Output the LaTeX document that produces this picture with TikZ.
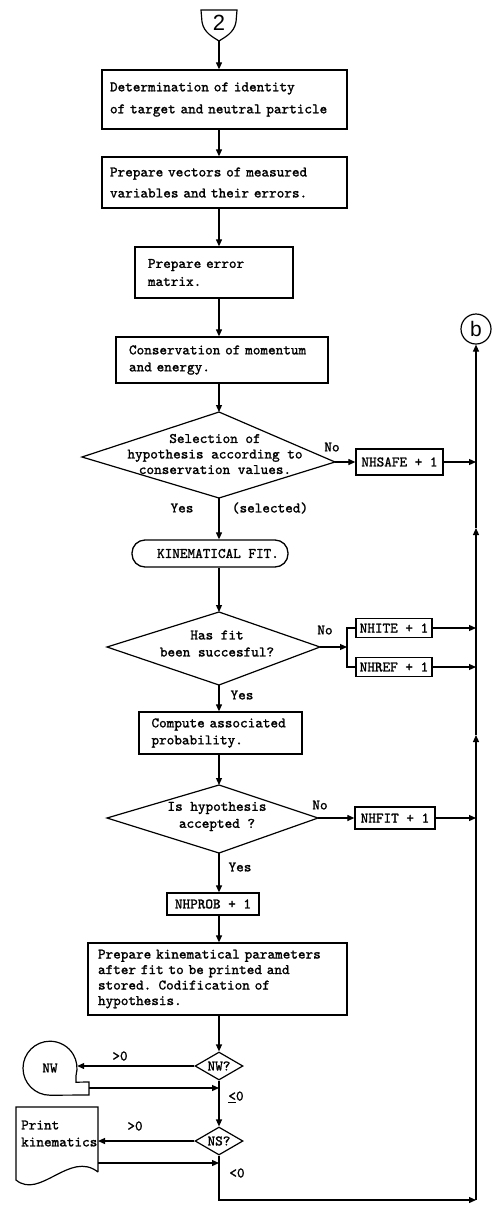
\documentclass[tikz,border=0pt]{standalone}
\usepackage{fontspec}
\newfontfamily\tw[FakeBold=1.4]{lmmono10-regular.otf}
\newfontfamily\sfx{Liberation Sans}
\usetikzlibrary{arrows.meta,shapes.geometric}
\tikzset{
  tt/.style={font=\tw\fontsize{14.5}{15.5}\selectfont},
  proc/.style={draw, line width=1.3pt, align=left, inner ysep=2pt, tt},
  sbox/.style={draw, line width=1.3pt, inner xsep=3pt, inner ysep=2pt, tt},
  lbl/.style={tt, inner sep=1pt},
  ln/.style={line width=1.2pt},
  arr/.style={line width=1.2pt, -{Triangle[length=7pt,width=6pt]}},
  dec/.style={diamond, draw, line width=1.2pt, inner sep=0pt, minimum width=48pt, minimum height=28pt, aspect=1.7, tt}
}
\begin{document}
\begin{tikzpicture}[x=1pt,y=1pt]
\useasboundingbox[fill=white] (0,0) rectangle (492,-1208);
\coordinate (mx) at (219,0);
\coordinate (rx) at (476,0);

% off-page connector 2
\draw[ln] (201,-10) -- (237,-10) -- (236,-22) .. controls (234,-33) and (225,-37) .. (219,-41) .. controls (213,-37) and (204,-33) .. (202,-22) -- cycle;
\node[font=\sfx\fontsize{22}{22}\selectfont, inner sep=0pt] (c2) at (219,-23) {2};
\coordinate (s2) at (219,-41);

% process boxes
\node[proc, inner xsep=8pt, text width=229pt, minimum height=59pt, font=\tw\fontsize{14.5}{22}\selectfont] (b1) at (224.5,-99.5) {Determination of identity\\of target and neutral particle};
\node[proc, inner xsep=8pt, text width=229pt, minimum height=51pt, font=\tw\fontsize{14.5}{21}\selectfont] (b2) at (224.5,-182.5) {Prepare vectors of measured\\variables and their errors.};
\node[proc, inner xsep=13pt, text width=132pt, minimum height=51pt, font=\tw\fontsize{14.5}{18}\selectfont] (b3) at (214,-272.5) {Prepare error\\matrix.};
\node[proc, inner xsep=13pt, text width=186pt, minimum height=46pt, font=\tw\fontsize{14.5}{17}\selectfont] (b4) at (222,-360) {Conservation of momentum\\and energy.};

% decision 1
\coordinate (d1t) at (219,-412);
\coordinate (d1l) at (82,-457);
\coordinate (d1r) at (335,-462);
\coordinate (d1b) at (219,-498);
\draw[ln] (d1t) -- (d1r) -- (d1b) -- (d1l) -- cycle;
\node[lbl, align=center, font=\tw\fontsize{14.5}{15.5}\selectfont] (d1) at (215,-454) {Selection of\\hypothesis according to\\conservation values.};
\node[lbl] (no1) at (332,-447) {No};
\node[lbl] (yes1) at (182,-508) {Yes};
\node[lbl] (sel) at (270,-508) {(selected)};
\node[sbox, minimum width=87pt, minimum height=26pt] (nhs) at (399.5,-462) {NHSAFE + 1};

% kinematical fit
\node[draw, line width=1.3pt, rounded corners=13pt, minimum width=156pt, minimum height=27pt, tt] (kin) at (210,-553.5) {\hspace*{16pt}KINEMATICAL FIT.};

% decision 2
\coordinate (d2t) at (219,-612);
\coordinate (d2l) at (107,-647);
\coordinate (d2r) at (320,-647);
\coordinate (d2b) at (219,-685);
\draw[ln] (d2t) -- (d2r) -- (d2b) -- (d2l) -- cycle;
\node[lbl, align=center, font=\tw\fontsize{14.5}{17}\selectfont] (d2) at (217,-643.5) {Has fit\\been succesful?};
\node[lbl] (no2) at (325,-630) {No};
\node[lbl] (yes2) at (242,-695) {Yes};
\coordinate (br) at (347,-647);
\node[sbox, minimum width=76pt, minimum height=19pt] (nhite) at (394,-628) {NHITE + 1};
\node[sbox, minimum width=76pt, minimum height=19pt] (nhref) at (394,-667) {NHREF + 1};

% compute
\node[proc, inner xsep=12.5pt, text width=138pt, minimum height=42pt, font=\tw\fontsize{14.5}{17}\selectfont] (cmp) at (220.5,-733) {Compute associated\\probability.};

% decision 3
\coordinate (d3t) at (219,-785);
\coordinate (d3l) at (107,-818);
\coordinate (d3r) at (318,-818);
\coordinate (d3b) at (219,-853);
\draw[ln] (d3t) -- (d3r) -- (d3b) -- (d3l) -- cycle;
\node[lbl, align=center, font=\tw\fontsize{14.5}{17}\selectfont] (d3) at (217,-816.5) {Is hypothesis\\accepted ?};
\node[lbl] (no3) at (320,-805) {No};
\node[lbl] (yes3) at (240,-867) {Yes};
\node[sbox, minimum width=80pt, minimum height=22pt] (nhfit) at (395,-818) {NHFIT + 1};

\node[sbox, minimum width=92pt, minimum height=22pt] (nhp) at (213,-904) {NHPROB + 1};
\node[proc, inner xsep=10pt, text width=239pt, minimum height=72pt, font=\tw\fontsize{14.5}{15.5}\selectfont] (prep) at (217.5,-979) {Prepare kinematical parameters\\after fit to be printed and\\stored. Codification of\\hypothesis.};

% NW / NS decisions
\node[dec] (nwq) at (219,-1066) {NW?};
\node[dec] (nsq) at (219,-1141) {NS?};

% tape NW
\node[circle, minimum size=54pt, inner sep=0pt, tt] (nw) at (50,-1068) {NW};
\draw[ln] (nw.south) arc[start angle=270, end angle=-15, radius=27] -- ++(0,-7) -- (89,-1082) -- (89,-1095) -- cycle;
\coordinate (nwret) at (89,-1088);
\node[lbl] (gt1) at (120,-1056) {>0};
\node[lbl] (le0) at (236,-1097) {\underline{<}0};

% document Print kinematics
\draw[ln] (98,-1172) -- (98,-1107) -- (16,-1107) -- (16,-1180) .. controls (40,-1200) and (70,-1150) .. (98,-1172);
\node[lbl, anchor=west, align=left, inner sep=2pt, font=\tw\fontsize{14.5}{17}\selectfont] (pk) at (19,-1133.5) {Print\\kinematics};
\coordinate (pkin) at (98,-1141);
\coordinate (pkret) at (98,-1163);
\node[lbl] (gt2) at (135,-1126) {>0};
\node[lbl] (lt0) at (237,-1173) {<0};

% b connector
\node[circle, draw, line width=1.2pt, minimum size=30pt, inner sep=0pt, font=\sfx\fontsize{21}{21}\selectfont] (bc) at (476,-329) {b};
\coordinate (rc) at (476,-1200);
\coordinate (ra1) at (476,-735);
\coordinate (ra2) at (476,-528);

% main flow
\draw[arr] (s2) -- (b1.north -| mx);
\draw[arr] (b1.south -| mx) -- (b2.north -| mx);
\draw[arr] (b2.south -| mx) -- (b3.north -| mx);
\draw[arr] (b3.south -| mx) -- (b4.north -| mx);
\draw[arr] (b4.south -| mx) -- (d1t);
\draw[arr] (d1b) -- (kin.north -| mx);
\draw[arr] (kin.south -| mx) -- (d2t);
\draw[arr] (d2b) -- (cmp.north -| mx);
\draw[arr] (cmp.south -| mx) -- (d3t);
\draw[arr] (d3b) -- (nhp.north -| mx);
\draw[arr] (nhp.south -| mx) -- (prep.north -| mx);
\draw[arr] (prep.south -| mx) -- (nwq.north);
\draw[arr] (nwq.south) -- (nsq.north);
\draw[arr] (nsq.south) |- (rc);

% side branches
\draw[arr] (d1r) -- (nhs.west);
\draw[arr] (nhs.east) -- (nhs.east -| rx);
\draw[arr] (d2r) -- (br);
\draw[ln] (nhite.west) -| (br) |- (nhref.west);
\draw[arr] (nhite.east) -- (nhite.east -| rx);
\draw[arr] (nhref.east) -- (nhref.east -| rx);
\draw[arr] (d3r) -- (nhfit.west);
\draw[arr] (nhfit.east) -- (nhfit.east -| rx);

\draw[arr] (nwq.west) -- (nwq.west -| nw.east);
\draw[arr] (nwret) -- (nwret -| mx);
\draw[arr] (nsq.west) -- (pkin);
\draw[arr] (pkret) -- (pkret -| mx);

% return line to b
\draw[arr] (rc) -- (ra1);
\draw[arr] (ra1) -- (ra2);
\draw[arr] (ra2) -- (bc.south);
\end{tikzpicture}
\end{document}
